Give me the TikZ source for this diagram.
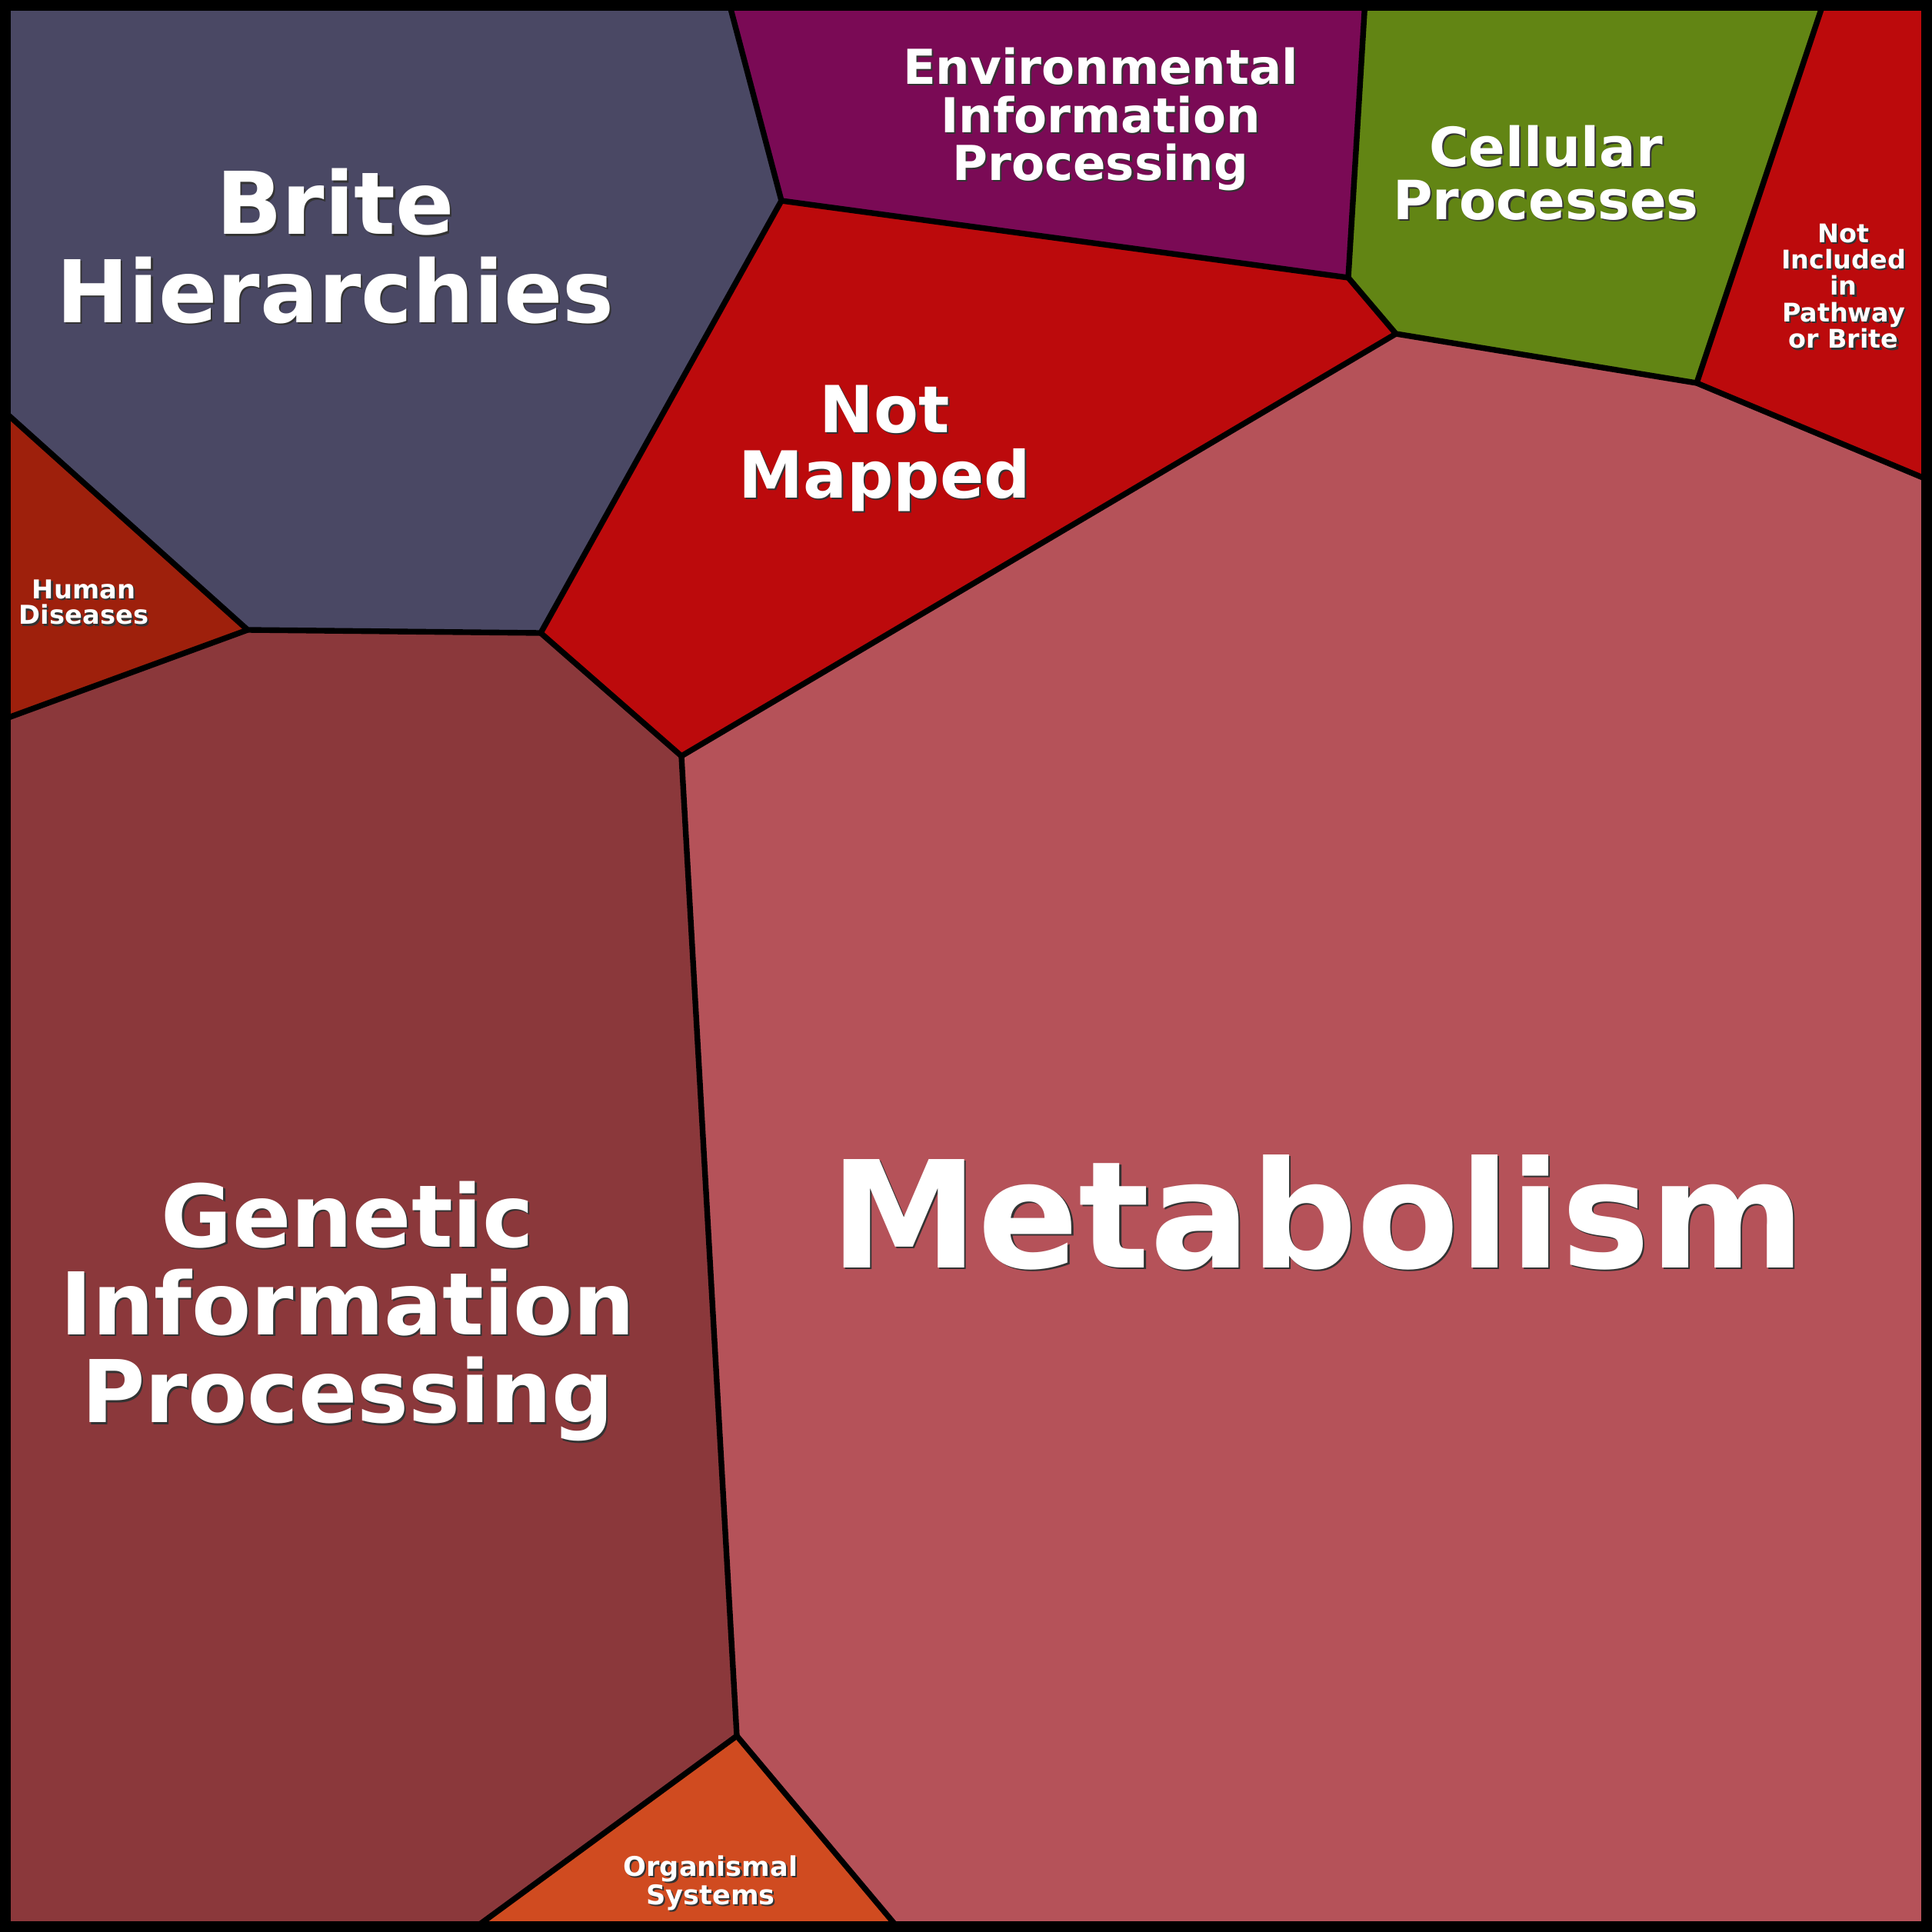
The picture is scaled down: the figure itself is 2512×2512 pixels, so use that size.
\documentclass[tikz,border=0pt]{standalone}
\usepackage{fontspec}
\setmainfont{DejaVu Sans}
\definecolor{cBrite}{RGB}{74,72,100}
\definecolor{cEnv}{RGB}{122,10,85}
\definecolor{cCell}{RGB}{98,133,20}
\definecolor{cRed}{RGB}{188,10,12}
\definecolor{cHuman}{RGB}{158,32,12}
\definecolor{cGen}{RGB}{139,56,59}
\definecolor{cMeta}{RGB}{181,82,89}
\definecolor{cOrg}{RGB}{208,75,32}
\tikzset{
  region/.style={draw=black,line width=2.1pt,line join=round},
  lbl/.style={text=white,font=\bfseries,align=center,inner sep=0pt},
  shd/.style={lbl,text=black!80,xshift=0.022cm,yshift=-0.022cm},
  fBrite/.style={font=\bfseries\fontsize{32}{32.5}\selectfont},
  fEnv/.style={font=\bfseries\fontsize{17.8}{17.8}\selectfont},
  fCell/.style={font=\bfseries\fontsize{20}{19.6}\selectfont},
  fInc/.style={font=\bfseries\fontsize{9.5}{9.8}\selectfont},
  fMap/.style={font=\bfseries\fontsize{24}{24}\selectfont},
  fHum/.style={font=\bfseries\fontsize{9.6}{9.6}\selectfont},
  fGen/.style={font=\bfseries\fontsize{32}{32.5}\selectfont},
  fMeta/.style={font=\bfseries\fontsize{55}{55}\selectfont},
  fOrg/.style={font=\bfseries\fontsize{10}{10.5}\selectfont},
}
\begin{document}
\begin{tikzpicture}[x=0.01cm,y=-0.01cm]
\useasboundingbox (0,0) rectangle (2512,2512);
\coordinate (TL) at (0,0);
\coordinate (TR) at (2512,0);
\coordinate (BR) at (2512,2512);
\coordinate (BL) at (0,2512);
\coordinate (A) at (947,0);
\coordinate (B) at (1016,261);
\coordinate (C) at (1775,0);
\coordinate (D) at (1753,361);
\coordinate (E) at (1815,434);
\coordinate (F) at (2372,0);
\coordinate (G) at (2206,498);
\coordinate (H) at (2512,626);
\coordinate (I) at (703,823);
\coordinate (J) at (886,983);
\coordinate (K) at (322,819);
\coordinate (L) at (0,530);
\coordinate (M) at (0,937);
\coordinate (N) at (958,2257);
\coordinate (O) at (610,2512);
\coordinate (P) at (1172,2512);
% regions
\fill[cBrite] (TL) -- (A) -- (B) -- (I) -- (K) -- (L) -- cycle;
\fill[cEnv] (A) -- (C) -- (D) -- (B) -- cycle;
\fill[cCell] (C) -- (F) -- (G) -- (E) -- (D) -- cycle;
\fill[cRed] (F) -- (TR) -- (H) -- (G) -- cycle;
\fill[cRed] (B) -- (D) -- (E) -- (J) -- (I) -- cycle;
\fill[cHuman] (L) -- (K) -- (M) -- cycle;
\fill[cGen] (M) -- (K) -- (I) -- (J) -- (N) -- (O) -- (BL) -- cycle;
\fill[cMeta] (J) -- (E) -- (G) -- (H) -- (BR) -- (P) -- (N) -- cycle;
\fill[cOrg] (N) -- (P) -- (O) -- cycle;
% borders
\draw[region] (A) -- (B) -- (I) -- (K) -- (L);
\draw[region] (C) -- (D) -- (B);
\draw[region] (F) -- (G) -- (E) -- (D);
\draw[region] (H) -- (G);
\draw[region] (E) -- (J) -- (I);
\draw[region] (K) -- (M);
\draw[region] (J) -- (N) -- (O);
\draw[region] (N) -- (P);
\draw[line width=8pt] (TL) rectangle (BR);
% label shadows
\node[shd,fBrite] (brite-s) at (436,320) {Brite\\Hierarchies};
\node[shd,fEnv] (env-s) at (1431,155) {Environmental\\Information\\Processing};
\node[shd,fCell] (cell-s) at (2010,225) {Cellular\\Processes};
\node[shd,fInc] (notinc-s) at (2397,372) {Not\\Included\\in\\Pathway\\or Brite};
\node[shd,fMap] (notmap-s) at (1150,583) {Not\\Mapped};
\node[shd,fHum] (human-s) at (109,783) {Human\\Diseases};
\node[shd,fGen] (gen-s) at (452,1705) {Genetic\\Information\\Processing};
\node[shd,fMeta] (meta-s) at (1713,1576) {Metabolism};
\node[shd,fOrg] (org-s) at (924,2448) {Organismal\\Systems};
% labels
\node[lbl,fBrite] (brite) at (436,320) {Brite\\Hierarchies};
\node[lbl,fEnv] (env) at (1431,155) {Environmental\\Information\\Processing};
\node[lbl,fCell] (cell) at (2010,225) {Cellular\\Processes};
\node[lbl,fInc] (notinc) at (2397,372) {Not\\Included\\in\\Pathway\\or Brite};
\node[lbl,fMap] (notmap) at (1150,583) {Not\\Mapped};
\node[lbl,fHum] (human) at (109,783) {Human\\Diseases};
\node[lbl,fGen] (gen) at (452,1705) {Genetic\\Information\\Processing};
\node[lbl,fMeta] (meta) at (1713,1576) {Metabolism};
\node[lbl,fOrg] (org) at (924,2448) {Organismal\\Systems};
\end{tikzpicture}
\end{document}
